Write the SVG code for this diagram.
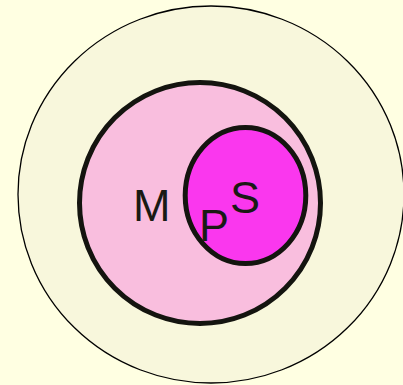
<svg xmlns="http://www.w3.org/2000/svg" width="403" height="385" viewBox="0 0 403 385">
<style>
.lbl{font-family:"Liberation Sans",Arial,sans-serif;font-size:45px;fill:#1a1a14}
.thick{stroke:#14140f;stroke-width:5}
</style>
<rect x="0" y="0" width="403" height="385" fill="#ffffe2"/>
<g id="outer"><ellipse cx="211" cy="194.5" rx="193" ry="188.5" fill="#f8f7dc" stroke="#000" stroke-width="1.3"/></g>
<g id="M"><circle cx="200" cy="203" r="120.5" fill="#f9bede" class="thick"/>
<text class="lbl" x="133" y="220.5">M</text></g>
<g id="S"><ellipse cx="245.5" cy="195.5" rx="60.3" ry="68" fill="#fa37ee" class="thick"/>
<text class="lbl" x="230" y="212.5">S</text></g>
<g id="P"><text class="lbl" x="199" y="240.5">P</text></g>
<g id="connectors"/>
</svg>
